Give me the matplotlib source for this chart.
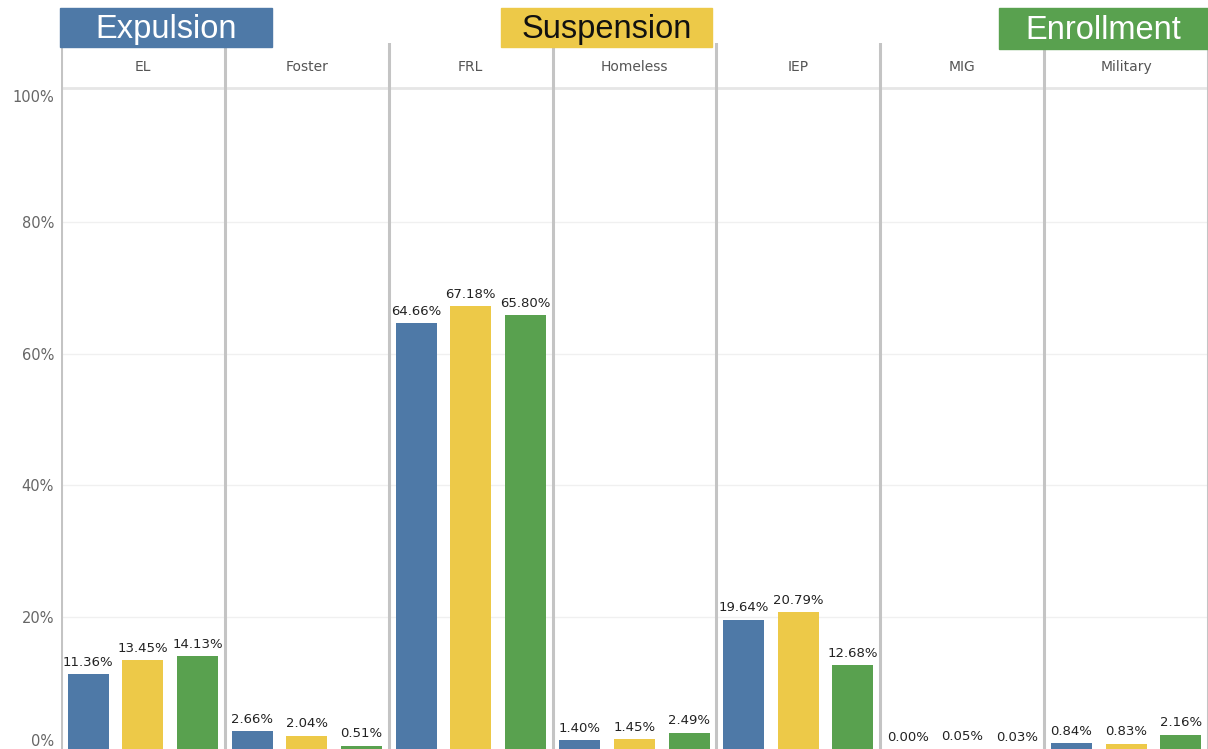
import matplotlib.pyplot as plt
from matplotlib.patches import Rectangle

groups = ["EL", "Foster", "FRL", "Homeless", "IEP", "MIG", "Military"]
series = ["Expulsion", "Suspension", "Enrollment"]
expulsion = [11.36, 2.66, 64.66, 1.40, 19.64, 0.00, 0.84]
suspension = [13.45, 2.04, 67.18, 1.45, 20.79, 0.05, 0.83]
enrollment = [14.13, 0.51, 65.80, 2.49, 12.68, 0.03, 2.16]
yticks = [0, 20, 40, 60, 80, 100]

colors = ["#4e79a7", "#edc948", "#59a14f"]
W, H = 1208, 749

fig = plt.figure(figsize=(W / 100, H / 100), dpi=100)
# axes spans the header strip too; 0% at the bottom edge, 100% at y=90px
top_px = 43
ax = fig.add_axes([61 / W, 0, 1 - 61 / W, 1 - top_px / H])
ytop = 100 * (H - top_px) / (H - 90)
ax.set_xlim(0, len(groups))
ax.set_ylim(0, ytop)

for g in [20, 40, 60, 80]:
    ax.axhline(g, color="#f0f0f0", lw=1, zorder=0)
ax.axhline(100.3, color="#e6e6e6", lw=2, zorder=1)

bw = 0.75 / 3
for j, vals in enumerate([expulsion, suspension, enrollment]):
    xs = [i + (j + 0.5) / 3 for i in range(len(groups))]
    ax.bar(xs, vals, width=bw, color=colors[j], zorder=2)
    for x, v in zip(xs, vals):
        ax.text(x, v + 0.8, f"{v:.2f}%", ha="center", va="bottom",
                fontsize=9.5, color="#222222", zorder=3)

for i, g in enumerate(groups):
    ax.text(i + 0.5, (H - 67 - (H - 750)) / 6.6, g, ha="center", va="center",
            fontsize=10, color="#555555")

for i in range(len(groups) + 1):
    ax.axvline(i, color="#c4c4c4", lw=2.2, zorder=4)

for s in ax.spines.values():
    s.set_visible(False)
ax.set_xticks([])
ax.set_yticks(yticks)
ax.set_yticklabels([f"{t}%" for t in yticks], fontsize=10.5, color="#666666")
ax.tick_params(axis="y", length=0, pad=5)
labs = ax.get_yticklabels()
labs[0].set_va("bottom")
labs[-1].set_va("top")

# legend boxes at the top
boxes = [(60, 272, 8, 47), (501, 712, 8, 47), (999, 1208, 8, 49)]
txtcol = ["white", "#111111", "white"]
for (x0, x1, y0, y1), name, c, tc in zip(boxes, series, colors, txtcol):
    fig.patches.append(Rectangle((x0 / W, 1 - y1 / H), (x1 - x0) / W, (y1 - y0) / H,
                                 transform=fig.transFigure, color=c, zorder=5))
    fig.text((x0 + x1) / 2 / W, 1 - ((y0 + y1) / 2 + 2) / H, name, ha="center", va="center",
             fontsize=23.5, color=tc, family="Liberation Sans", zorder=6)

plt.savefig("out.png", dpi=100)
